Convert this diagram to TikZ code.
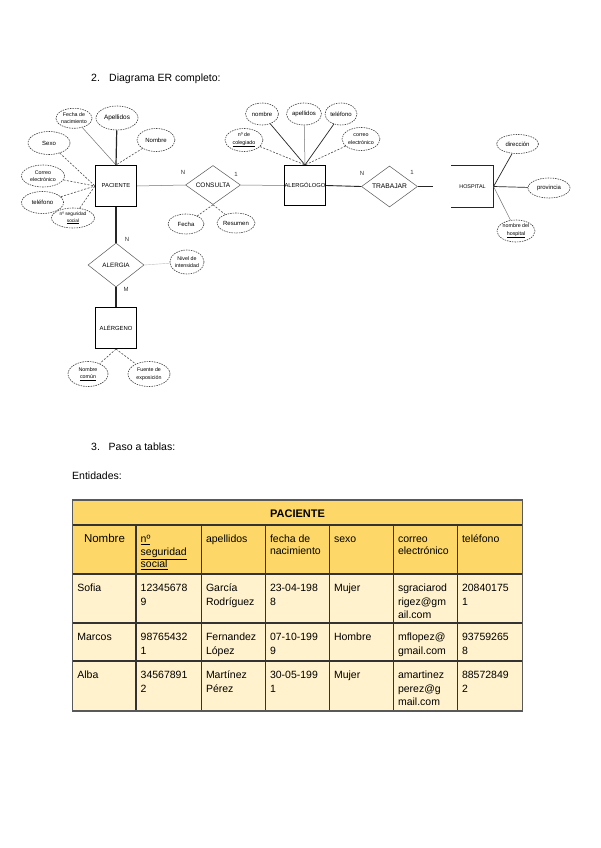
\documentclass[tikz,border=0pt]{standalone}
\usepackage{fontspec}
\setmainfont{Liberation Sans}
\usetikzlibrary{shapes.geometric}
\definecolor{hdr}{HTML}{FDD868}
\definecolor{rowc}{HTML}{FFF2CC}
\newcommand\mystrut{\rule{0pt}{10pt}}
\begin{document}
\begin{tikzpicture}[x=1pt,y=-1pt,
 entity/.style={draw=black,line width=1.1pt,minimum width=41pt,minimum height=41pt,inner sep=0pt,font=\fontsize{5.8}{7}\selectfont},
 rel/.style={diamond,aspect=1.4,draw=black!65,line width=0.5pt,inner sep=0pt,font=\fontsize{6.5}{7}\selectfont},
 attr/.style={ellipse,draw=black!75,dash pattern=on 1.5pt off 1pt,line width=0.6pt,inner sep=0pt,align=center,font=\fontsize{6}{7}\selectfont},
 attrb/.style={attr,font=\fontsize{5.3}{7.5}\selectfont},
 card/.style={font=\fontsize{6}{7}\selectfont,text=black!80,inner sep=0pt},
 cthin/.style={draw=black!55,line width=0.5pt},
 thk/.style={draw=black!85,line width=1.2pt},
 dsh/.style={draw=black!70,line width=0.6pt,dash pattern=on 2pt off 1.5pt},
 sol/.style={draw=black!85,line width=0.7pt},
 heading/.style={font=\fontsize{10.5}{13}\selectfont,inner sep=0pt,anchor=base west},
 cell/.style={font=\fontsize{10.5}{13.3}\selectfont,inner sep=0pt,anchor=north west,align=left},
 tbl/.style={draw=black!80,line width=1.2pt},
]
\fill[white] (0,0) rectangle (600,848);
\useasboundingbox (0,0) rectangle (600,848);

% headings
\node[heading] (h2n) at (91,82) {2.};
\node[heading] (h2) at (109,82) {Diagrama ER completo:};
\node[heading] (h3n) at (91,450) {3.};
\node[heading] (h3) at (108.5,450) {Paso a tablas:};
\node[heading] (ent) at (72,479) {Entidades:};

% entities
\node[entity] (pac) at (116,186) {PACIENTE};
\node[entity,minimum width=40pt,minimum height=40pt] (alo) at (305,185.5) {ALERGÓLOGO};
\node[entity,font=\fontsize{5.9}{7}\selectfont] (agn) at (116,328) {ALÉRGENO};
\node[entity,draw=none,font=\fontsize{5.4}{7}\selectfont] (hos) at (472.5,186.5) {HOSPITAL};
\draw[thk,line width=1pt] (hos.north west) -- (hos.north east) -- (hos.south east) -- (hos.south west);

% relationships
\node[rel,minimum width=55pt,minimum height=39pt] (con) at (213,185) {CONSULTA};
\node[rel,minimum width=56pt,minimum height=41pt,font=\fontsize{6.7}{7}\selectfont] (tra) at (389.5,186.5) {TRABAJAR};
\node[rel,minimum width=56pt,minimum height=44pt,font=\fontsize{6.3}{7}\selectfont] (alg) at (116,265) {ALERGIA};

% attributes
\node[attrb,minimum width=36pt,minimum height=20pt] (fn) at (74,118.3) {Fecha de\\nacimiento};
\node[attr,minimum width=42pt,minimum height=24pt,font=\fontsize{6.4}{7}\selectfont] (ap) at (117,118) {Apellidos};
\node[attr,minimum width=38pt,minimum height=23pt] (nom) at (156,140) {Nombre};
\node[attr,minimum width=42pt,minimum height=23pt] (sex) at (49,143) {Sexo};
\node[attrb,minimum width=43pt,minimum height=22pt] (cor) at (43,176) {Correo\\electrónico};
\node[attr,minimum width=42pt,minimum height=22pt] (tel) at (42.5,202.5) {teléfono};
\node[attrb,minimum width=43pt,minimum height=20pt,font=\fontsize{4.8}{7}\selectfont] (nss) at (73,218) {nº seguridad\\\underline{social}};
\node[attr,minimum width=36pt,minimum height=20pt] (fec) at (186,224) {Fecha};
\node[attr,minimum width=38pt,minimum height=20pt] (res) at (236,223) {Resumen};
\node[attrb,minimum width=34pt,minimum height=24pt] (niv) at (187,262) {Nivel de\\intensidad};
\node[attr,minimum width=33pt,minimum height=22pt] (anom) at (262,114) {nombre};
\node[attr,minimum width=35pt,minimum height=22pt] (aape) at (304,114) {apellidos};
\node[attr,minimum width=32pt,minimum height=22pt] (atel) at (341,114) {teléfono};
\node[attrb,minimum width=38pt,minimum height=23pt] (acol) at (244,140) {nº de\\\underline{colegiado}};
\node[attrb,minimum width=38pt,minimum height=23pt] (acor) at (361,139) {correo\\electrónico};
\node[attr,minimum width=42pt,minimum height=19pt] (dir) at (517.5,144) {dirección};
\node[attr,minimum width=42pt,minimum height=20pt] (prov) at (549,188) {provincia};
\node[attrb,minimum width=38pt,minimum height=22pt] (nhos) at (516,231) {nombre del\\\underline{hospital}};
\node[attrb,minimum width=40pt,minimum height=25pt] (ncom) at (88,374) {Nombre\\\underline{común}};
\node[attrb,minimum width=42pt,minimum height=25pt] (fue) at (149,374) {Fuente de\\exposición};

% connectors
\draw[cthin] (fn) -- (pac.north);
\draw[thk] (ap) -- (pac.north);
\draw[dsh] (nom) -- (pac.north);
\draw[dsh] (sex) -- (pac.west);
\draw[dsh] (cor) -- (pac.west);
\draw[dsh] (tel) -- (pac.west);
\draw[dsh] (nss) -- (pac.west);
\draw[cthin] (pac.east) -- (con.west);
\draw[cthin] (con.east) -- (alo.west);
\draw[thk,line width=0.9pt] (alo.east) -- (tra.west);
\coordinate (hend) at (433,186.5);
\draw[thk,line width=0.9pt] (tra.east) -- (hend);
\draw[dsh] (con.south) -- (fec);
\draw[dsh] (con.south) -- (res);
\draw[sol] (anom) -- (alo.north);
\draw[cthin] (aape) -- (alo.north);
\draw[sol] (atel) -- (alo.north);
\draw[dsh] (acol) -- (alo.north);
\draw[dsh] (acor) -- (alo.north);
\draw[sol] (hos.east) -- (dir);
\draw[sol] (hos.east) -- (prov);
\draw[cthin] (hos.east) -- (nhos);
\draw[thk] (pac.south) -- (alg.north);
\draw[thk] (alg.south) -- (agn.north);
\draw[draw=black!25,line width=0.4pt] (alg.east) -- (niv);
\draw[dsh] (agn.south) -- (ncom);
\draw[dsh] (agn.south) -- (fue);

% cardinalities
\node[card] (k1) at (183,172) {N};
\node[card] (k2) at (236,174) {1};
\node[card] (k3) at (362,173) {N};
\node[card] (k4) at (412,172) {1};
\node[card] (k5) at (127,239) {N};
\node[card] (k6) at (126,289) {M};

% table
\fill[hdr] (72.7,500) rectangle (522.3,574);
\fill[rowc] (72.7,574) rectangle (522.3,711);
\foreach \y in {525,574,623,661} \draw[tbl] (72.7,\y) -- (522.3,\y);
\foreach \x in {136,201.3,265.3,329.3,393.3,457.3} \draw[tbl] (\x,525) -- (\x,711);
\draw[tbl,draw=black!65] (72.7,500) rectangle (522.3,711);

\node[font=\bfseries\fontsize{11}{13}\selectfont,inner sep=0pt] (tt) at (297.5,513.3) {PACIENTE};

\node[cell,anchor=north,font=\fontsize{11.5}{13}\selectfont] (hc0) at (104.5,532.7) {\mystrut Nombre};
\node[cell,font=\fontsize{10.5}{12.5}\selectfont] (hc1) at (140.5,532.7) {\mystrut\underline{nº}\\\underline{seguridad}\\\underline{social}};
\node[cell] (hc2) at (205.8,532.7) {\mystrut apellidos};
\node[cell,font=\fontsize{10.5}{11.2}\selectfont] (hc3) at (269.8,532.7) {\mystrut fecha de\\nacimiento};
\node[cell] (hc4) at (333.8,532.7) {\mystrut sexo};
\node[cell,font=\fontsize{10.5}{11.2}\selectfont] (hc5) at (397.8,532.7) {\mystrut correo\\electrónico};
\node[cell] (hc6) at (461.8,532.7) {\mystrut teléfono};

\node[cell] (a0) at (77.2,581.7) {\mystrut Sofia};
\node[cell] (a1) at (140.5,581.7) {\mystrut 12345678\\9};
\node[cell] (a2) at (205.8,581.7) {\mystrut García\\Rodríguez};
\node[cell] (a3) at (269.8,581.7) {\mystrut 23-04-198\\8};
\node[cell] (a4) at (333.8,581.7) {\mystrut Mujer};
\node[cell] (a5) at (397.8,581.7) {\mystrut sgraciarod\\rigez@gm\\ail.com};
\node[cell] (a6) at (461.8,581.7) {\mystrut 20840175\\1};

\node[cell] (b0) at (77.2,630.7) {\mystrut Marcos};
\node[cell] (b1) at (140.5,630.7) {\mystrut 98765432\\1};
\node[cell] (b2) at (205.8,630.7) {\mystrut Fernandez\\López};
\node[cell] (b3) at (269.8,630.7) {\mystrut 07-10-199\\9};
\node[cell] (b4) at (333.8,630.7) {\mystrut Hombre};
\node[cell] (b5) at (397.8,630.7) {\mystrut mflopez@\\gmail.com};
\node[cell] (b6) at (461.8,630.7) {\mystrut 93759265\\8};

\node[cell] (c0) at (77.2,668.7) {\mystrut Alba};
\node[cell] (c1) at (140.5,668.7) {\mystrut 34567891\\2};
\node[cell] (c2) at (205.8,668.7) {\mystrut Martínez\\Pérez};
\node[cell] (c3) at (269.8,668.7) {\mystrut 30-05-199\\1};
\node[cell] (c4) at (333.8,668.7) {\mystrut Mujer};
\node[cell] (c5) at (397.8,668.7) {\mystrut amartinez\\perez@g\\mail.com};
\node[cell] (c6) at (461.8,668.7) {\mystrut 88572849\\2};
\end{tikzpicture}
\end{document}
